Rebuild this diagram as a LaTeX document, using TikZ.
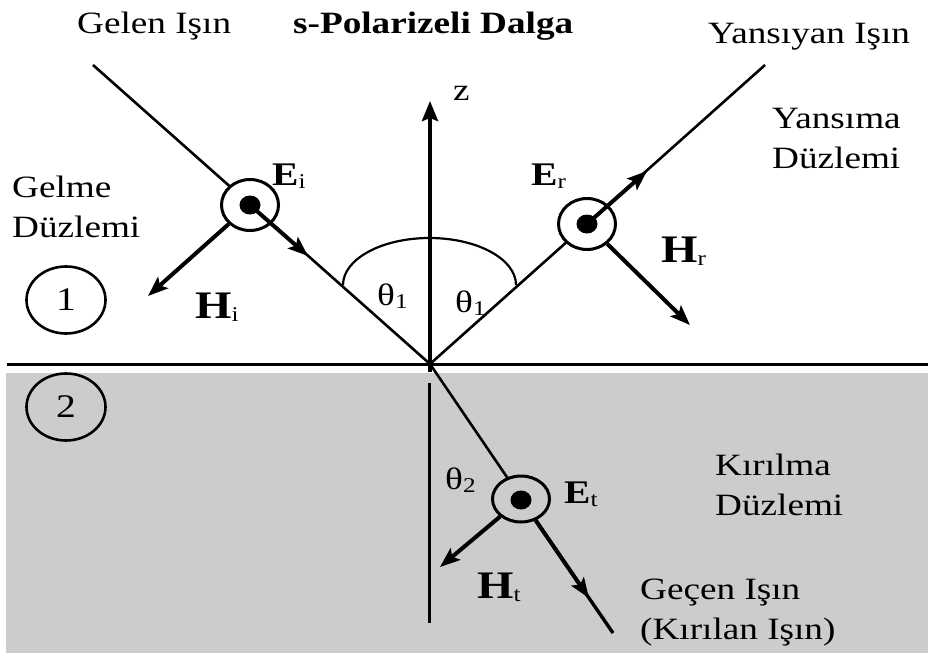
\documentclass[tikz,border=0pt]{standalone}
\usepackage{fontspec}
\setmainfont{Liberation Serif}[FakeStretch=1.2]
\usetikzlibrary{arrows.meta,shapes.geometric,calc}
\definecolor{medgray}{HTML}{CCCCCC}
\newcommand{\myfs}[1]{\fontsize{#1}{#1}\selectfont}
\newcommand{\vlab}[3]{{\myfs{#3}\bfseries #1}\raisebox{-3pt}{\myfs{21}#2}}
\newcommand{\thlab}[1]{{\myfs{31}θ}\raisebox{-3pt}{\myfs{21}#1}}
\begin{document}
\begin{tikzpicture}[x=1pt,y=-1pt,
  ray/.style={line width=2.6pt},
  vec/.style={line width=4pt, -{Stealth[length=20pt,width=15pt,inset=4pt]}},
  ring/.style={ellipse, draw, line width=3pt, minimum width=57pt, minimum height=51pt, inner sep=0pt},
  dotn/.style={ellipse, fill=black, minimum width=21pt, minimum height=19pt, inner sep=0pt},
  region/.style={ellipse, draw, line width=2.6pt, minimum width=79pt, minimum height=67pt, inner sep=0pt, font=\myfs{33}},
  txt/.style={anchor=base west, inner sep=0pt, font=\fontsize{31}{40}\selectfont, align=left},
  lab/.style={anchor=base west, inner sep=0pt},
]
\useasboundingbox (0,0) rectangle (928,653);
% medium 2
\fill[medgray] (6,373) rectangle (928,653);
% interface
\draw[line width=3pt] (7,364) -- (928,364);

% key points
\coordinate (O) at (430,364);
\coordinate (A) at (93,65);
\coordinate (B) at (765,65);
\coordinate (T) at (613,633);

% z axis and normal below
\coordinate (zbot) at (430,372);
\coordinate (ztip) at (430,101);
\draw[line width=4pt, -{Stealth[length=20pt,width=16pt,inset=3pt]}] (zbot) -- (ztip);
\coordinate (n1) at (429,383);
\coordinate (n2) at (429,623);
\draw[line width=3pt] (n1) -- (n2);

% angle arc
\draw[line width=2.2pt] (343,285) arc[start angle=180, end angle=360, x radius=86.5, y radius=47];

% rays
\draw[ray] (A) -- (O);
\draw[ray] (O) -- (B);
\draw[ray] (O) -- ($(O)!0.5!(T)$);

% incident wave
\node[ring, fill=white] (ci) at (250,205) {};
\node[dotn] (di) at (250,205) {};
\coordinate (ei) at (308,256);
\coordinate (hi) at (148,296);
\draw[vec] (di.center) -- (ei);
\draw[vec] (ci) -- (hi);

% reflected wave
\node[ring, fill=white] (cr) at (587,224) {};
\node[dotn] (dr) at (587,224) {};
\coordinate (er) at (647,171);
\coordinate (hr) at (690,325);
\draw[vec] (dr.center) -- (er);
\draw[vec] (cr) -- (hr);

% transmitted wave
\node[ring, fill=medgray, minimum height=46pt] (ct) at (521,499) {};
\node[dotn] (dt) at (521,500) {};
\coordinate (et) at (589,598);
\coordinate (ht) at (440,567);
\draw[line width=3.4pt] (ct) -- (T);
\draw[vec] (ct) -- (et);
\draw[vec] (ct) -- (ht);

% region markers
\node[region] (r1) at (66,300) {1};
\node[region] (r2) at (66,407) {2};

% labels (multi-line nodes are placed by the baseline of their last line)
\node[txt] (gelen) at (77,33) {Gelen Işın};
\node[txt, font=\myfs{31}\bfseries] (title) at (293,33) {s-Polarizeli Dalga};
\node[txt] (yansiyan) at (708,43) {Yansıyan Işın};
\node[txt] (zlab) at (453,100) {z};
\node[txt] (yansima) at (772,168) {Yansıma\\Düzlemi};
\node[txt] (gelme) at (12,237) {Gelme\\Düzlemi};
\node[txt] (kirilma) at (715,515) {Kırılma\\Düzlemi};
\node[txt] (gecen) at (640,639) {Geçen Işın\\(Kırılan Işın)};

\node[lab] (Ei) at (272,185) {\vlab{E}{i}{33}};
\node[lab] (Hi) at (195,318) {\vlab{H}{i}{39}};
\node[lab] (Er) at (531,185) {\vlab{E}{r}{33}};
\node[lab] (Hr) at (661,262) {\vlab{H}{r}{39}};
\node[lab] (Et) at (564,503) {\vlab{E}{t}{33}};
\node[lab] (Ht) at (477,598) {\vlab{H}{t}{39}};

\node[lab] (th1a) at (377,305) {\thlab{1}};
\node[lab] (th1b) at (455,312) {\thlab{1}};
\node[lab] (th2) at (445,489) {\thlab{2}};
\end{tikzpicture}
\end{document}
